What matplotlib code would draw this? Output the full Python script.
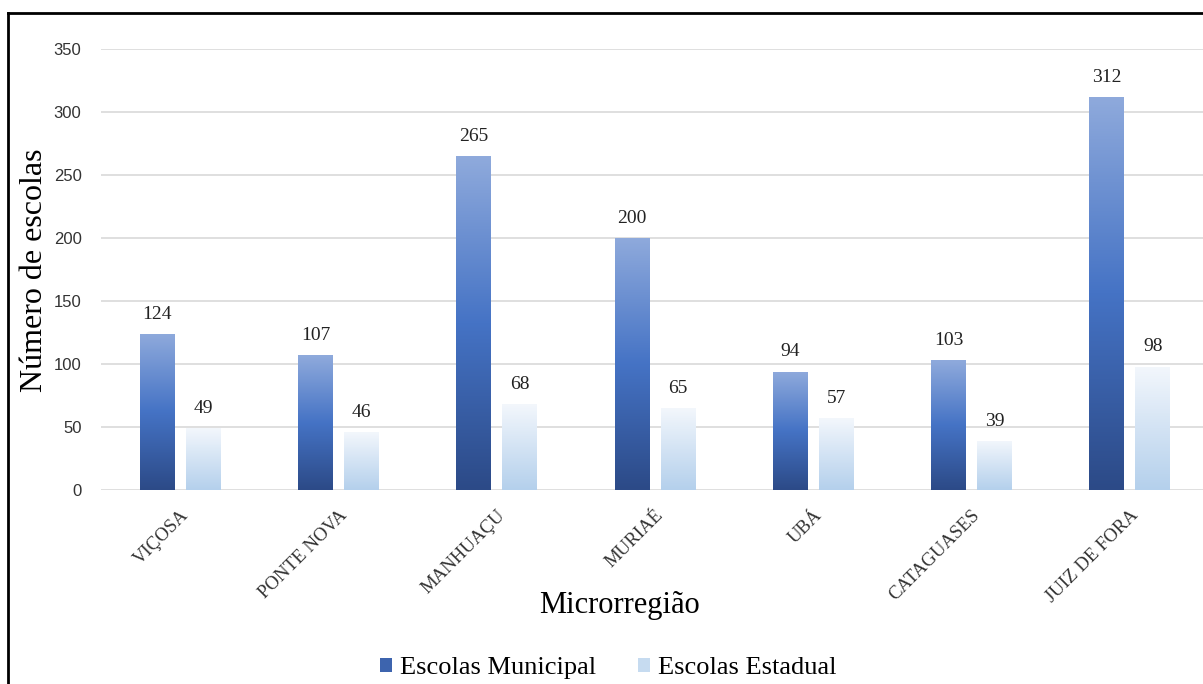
import numpy as np
import matplotlib.pyplot as plt
from matplotlib.colors import LinearSegmentedColormap
from matplotlib.patches import Patch
from matplotlib.lines import Line2D

categorias = ['VIÇOSA', 'PONTE NOVA', 'MANHUAÇU', 'MURIAÉ', 'UBÁ', 'CATAGUASES', 'JUIZ DE FORA']
municipal = [124, 107, 265, 200, 94, 103, 312]
estadual = [49, 46, 68, 65, 57, 39, 98]

plt.rcParams['font.family'] = ['Liberation Serif', 'DejaVu Serif']

# gradients (bottom -> top)
cmap_mun = LinearSegmentedColormap.from_list('mun', ['#2c4a87', '#4573c5', '#8faadc'])
cmap_est = LinearSegmentedColormap.from_list('est', ['#b4d0ec', '#d3e3f4', '#f3f7fc'])

fig = plt.figure(figsize=(12.03, 6.84), dpi=100)
W, H = 1203, 684
ax = fig.add_axes([101 / W, 1 - 490 / H, (1209 - 101) / W, (490 - 49) / H])

x = np.arange(len(categorias))
off = 0.145
w = 0.22

def grad_bars(xs, vals, cmap):
  bars = ax.bar(xs, vals, w, color='none', edgecolor='none', zorder=2)
  grad = np.linspace(0, 1, 256).reshape(-1, 1)
  for b in bars:
    x0, y0 = b.get_x(), b.get_y()
    im = ax.imshow(grad, cmap=cmap, origin='lower', aspect='auto',
                   extent=[x0, x0 + b.get_width(), y0, y0 + b.get_height()], zorder=2)
    im.set_clip_path(b)
  return bars

b1 = grad_bars(x - off, municipal, cmap_mun)
b2 = grad_bars(x + off, estadual, cmap_est)

for xs, vals in [(x - off, municipal), (x + off, estadual)]:
  for xi, v in zip(xs, vals):
    ax.annotate(str(v), (xi, v), xytext=(0, 8), textcoords='offset points',
                ha='center', va='bottom', fontsize=14, color='#222222')

ax.set_xlim(-0.5, 6.5)
ax.set_ylim(0, 350)
ax.set_yticks(np.arange(0, 351, 50))
ax.set_yticklabels([str(v) for v in range(0, 351, 50)], family=['Liberation Sans', 'DejaVu Sans'],
                   fontsize=12, color='#333333')
ax.yaxis.grid(True, color='#d9d9d9', linewidth=1.2, zorder=0)
ax.set_axisbelow(True)
ax.tick_params(axis='both', length=0)
ax.tick_params(axis='y', pad=14)
for s in ax.spines.values():
  s.set_visible(False)

ax.set_xticks(x)
ax.set_xticklabels(categorias, rotation=45, ha='right', rotation_mode='anchor',
                   fontsize=13.5, color='#333333')
ax.tick_params(axis='x', pad=12)

fig.text(620 / W, 1 - 605 / H, 'Microrregião', ha='center', va='center', fontsize=22)
fig.text(35 / W, 1 - 270 / H, 'Número de escolas', ha='center', va='center',
         rotation=90, fontsize=23)

handles = [Patch(facecolor='#3d64ae', edgecolor='none'), Patch(facecolor='#c6dbf0', edgecolor='none')]
fig.legend(handles, ['Escolas Municipal', 'Escolas Estadual'], loc='center',
           bbox_to_anchor=(608 / W, 1 - 668 / H), ncol=2, frameon=False, fontsize=19,
           handlelength=0.45, handleheight=0.45, handletextpad=0.3, columnspacing=1.6)

# outer frame (top and left edges visible)
fig.add_artist(Line2D([8 / W, 1], [1 - 13 / H, 1 - 13 / H], color='black', linewidth=2))
fig.add_artist(Line2D([8 / W, 8 / W], [0, 1 - 13 / H], color='black', linewidth=2))

fig.savefig('out.png', dpi=100)
